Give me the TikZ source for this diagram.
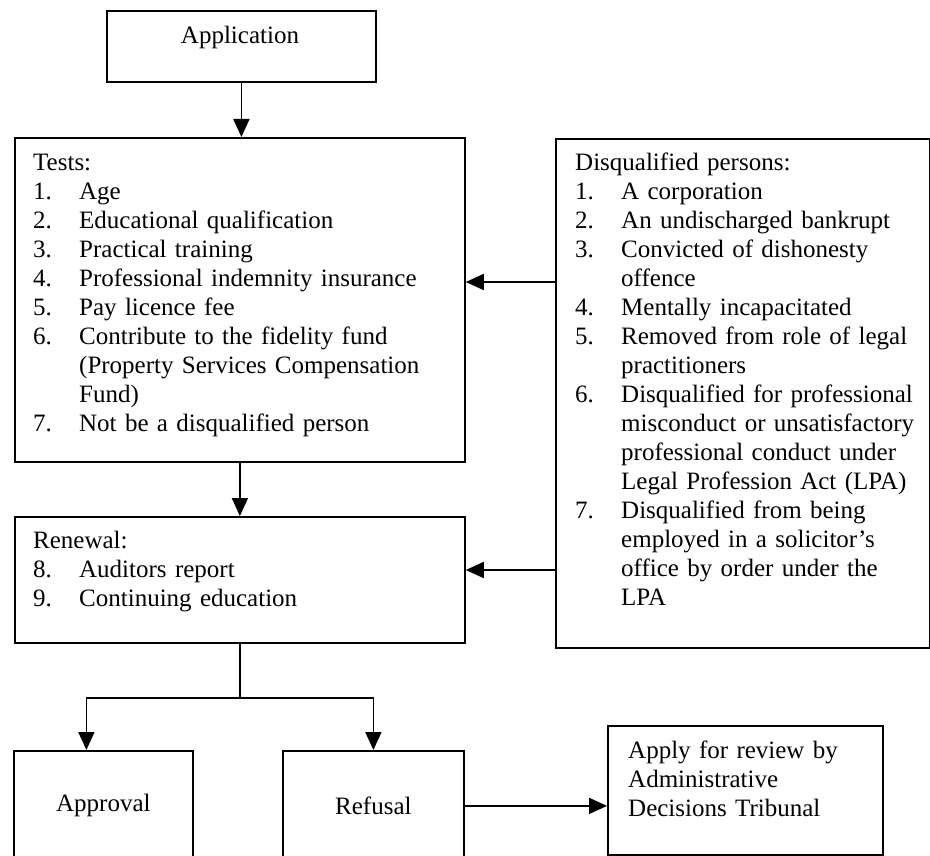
\documentclass[tikz,border=0pt]{standalone}
\usepackage{fontspec}
\setmainfont{Liberation Serif}
\usetikzlibrary{arrows.meta}

% numbered line and its continuation
\newcommand{\itm}[2]{\makebox[46pt][l]{#1}#2}
\newcommand{\cnt}[1]{\hspace*{46pt}#1}

\begin{document}
\begin{tikzpicture}[x=1pt,y=-1pt,
  font=\fontsize{25}{29}\selectfont,
  box/.style={draw,line width=1.8pt,anchor=north west,inner sep=0pt},
  txt/.style={anchor=base west,inner sep=0pt,align=left,text width=#1},
  link/.style={line width=1.8pt},
  arr/.style={link,-{Triangle[length=18pt,width=16pt]}}]

\useasboundingbox (0,0) rectangle (930,856);

% === Application ===
\node[box,minimum width=269pt,minimum height=71pt] (app) at (106,10) {};
\node[anchor=base,inner sep=0pt] (appTxt) at (240,44) {Application};

% === Tests ===
\node[box,minimum width=450pt,minimum height=324pt] (tests) at (14,137) {};
\node[txt=420pt] (testsTxt) at (33,171) {Tests:\\
  \itm{1.}{Age}\\
  \itm{2.}{Educational qualification}\\
  \itm{3.}{Practical training}\\
  \itm{4.}{Professional indemnity insurance}\\
  \itm{5.}{Pay licence fee}\\
  \itm{6.}{Contribute to the fidelity fund}\\
  \cnt{(Property Services Compensation}\\
  \cnt{Fund)}\\
  \itm{7.}{Not be a disqualified person}};

% === Renewal ===
\node[box,minimum width=450pt,minimum height=126pt] (renew) at (14,516) {};
\node[txt=420pt] (renewTxt) at (33,548) {Renewal:\\
  \itm{8.}{Auditors report}\\
  \itm{9.}{Continuing education}};

% === Disqualified persons ===
\node[box,minimum width=374pt,minimum height=509pt] (disq) at (555,138) {};
\node[txt=350pt] (disqTxt) at (575,171) {Disqualified persons:\\
  \itm{1.}{A corporation}\\
  \itm{2.}{An undischarged bankrupt}\\
  \itm{3.}{Convicted of dishonesty}\\
  \cnt{offence}\\
  \itm{4.}{Mentally incapacitated}\\
  \itm{5.}{Removed from role of legal}\\
  \cnt{practitioners}\\
  \itm{6.}{Disqualified for professional}\\
  \cnt{misconduct or unsatisfactory}\\
  \cnt{professional conduct under}\\
  \cnt{Legal Profession Act (LPA)}\\
  \itm{7.}{Disqualified from being}\\
  \cnt{employed in a solicitor’s}\\
  \cnt{office by order under the}\\
  \cnt{LPA}};

% === Outcomes ===
\node[box,minimum width=179pt,minimum height=110pt] (approve) at (13,750) {Approval};
\node[box,minimum width=181pt,minimum height=110pt] (refuse) at (282,750) {Refusal};
\node[box,minimum width=275pt,minimum height=129pt] (apply) at (607,725) {};
\node[txt=260pt] (applyTxt) at (628,758) {Apply for review by\\
  Administrative\\
  Decisions Tribunal};

% === Connectors ===
\draw[arr] (app.south) -- (app.south |- tests.north);
\draw[arr] (tests.south) -- (renew.north);

\coordinate (dq1) at ([yshift=-144pt]disq.north west);
\coordinate (dq2) at ([yshift=-432pt]disq.north west);
\draw[arr] (dq1) -- (dq1 -| tests.east);
\draw[arr] (dq2) -- (dq2 -| renew.east);

\coordinate (split) at ([yshift=-54pt]renew.south);
\draw[link] (renew.south) -- (split);
\draw[arr] (split) -| ([xshift=-17pt]approve.north);
\draw[arr] (split) -| (refuse.north);
\draw[arr] (refuse.east) -- (refuse.east -| apply.west);

\end{tikzpicture}
\end{document}
